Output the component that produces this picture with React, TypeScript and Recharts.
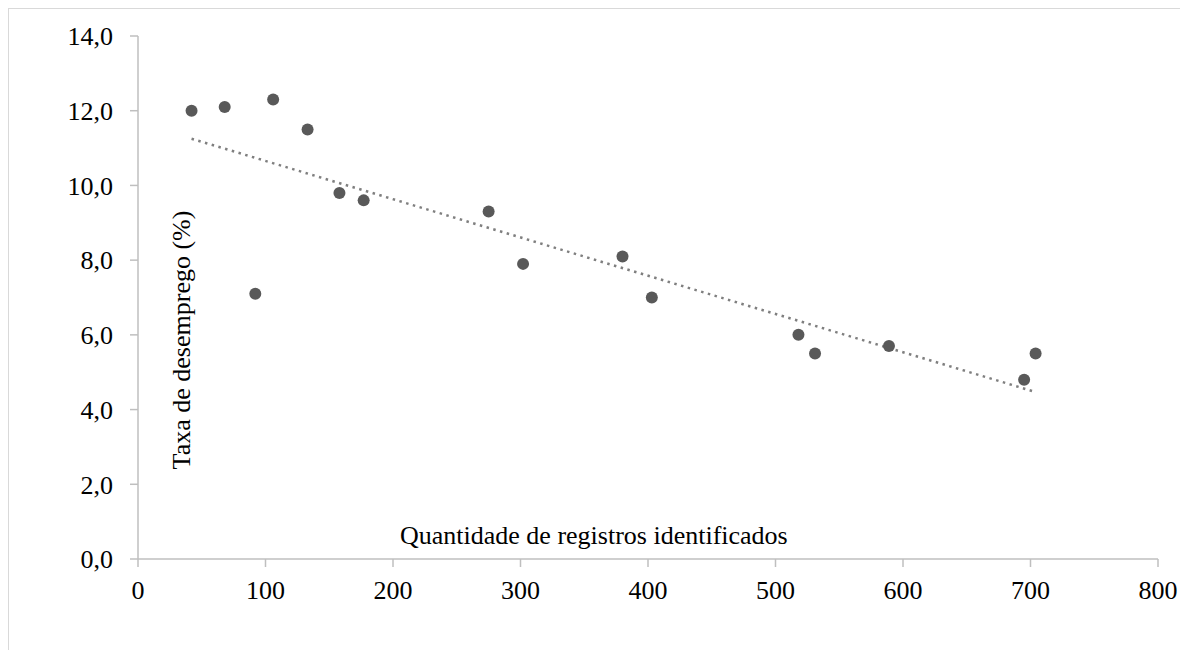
import React from 'react';
import {
  ScatterChart,
  Scatter,
  XAxis,
  YAxis,
  Label,
} from 'recharts';

// registros identificados (x) vs taxa de desemprego (y)
const registros = [42, 68, 92, 106, 133, 158, 177, 275, 302, 380, 403, 518, 531, 589, 695, 704];
const taxa = [12.0, 12.1, 7.1, 12.3, 11.5, 9.8, 9.6, 9.3, 7.9, 8.1, 7.0, 6.0, 5.5, 5.7, 4.8, 5.5];

// linear trend, start and end as seen in the figure
const trendX = [42, 704];
const trendY = [11.25, 4.47];

const xTicks = [0, 100, 200, 300, 400, 500, 600, 700, 800];
const yTicks = [0, 2, 4, 6, 8, 10, 12, 14];

const points = registros.map((x, i) => ({ x, y: taxa[i] }));
const trend = trendX.map((x, i) => ({ x, y: trendY[i] }));

const FONT = '"Liberation Serif", "Times New Roman", serif';
const axisColor = '#bfbfbf';

const fmtY = (v: number) => v.toFixed(1).replace('.', ',');

// custom ticks so the serif font actually sticks
const XTick = (p: any) => (
  <text
    x={p.x}
    y={p.y}
    dy="0.71em"
    textAnchor="middle"
    fontFamily={FONT}
    fontSize={26}
    fill="#000"
  >
    {p.payload.value}
  </text>
);

const YTick = (p: any) => (
  <text
    x={p.x}
    y={p.y}
    dy="0.355em"
    textAnchor="end"
    fontFamily={FONT}
    fontSize={26}
    fill="#000"
  >
    {fmtY(p.payload.value)}
  </text>
);

export default function App() {
  return (
    <div
      style={{
        width: 1180,
        height: 642,
        borderTop: '1px solid #d9d9d9',
        borderLeft: '1px solid #d9d9d9',
        background: '#fff',
        boxSizing: 'border-box',
      }}
    >
      <ScatterChart
        width={1179}
        height={641}
        margin={{ top: 27, right: 30, bottom: 51, left: 29 }}
      >
        <XAxis
          type="number"
          dataKey="x"
          domain={[0, 800]}
          ticks={xTicks}
          interval={0}
          tickSize={8}
          tickMargin={14}
          height={40}
          stroke={axisColor}
          strokeWidth={1.5}
          tick={XTick}
        >
          <Label
            content={({ viewBox }: any) => (
              <text
                x={viewBox.x + 262}
                y={viewBox.y - 15}
                fontFamily={FONT}
                fontSize={26}
                fill="#000"
              >
                Quantidade de registros identificados
              </text>
            )}
          />
        </XAxis>
        <YAxis
          type="number"
          dataKey="y"
          domain={[0, 14]}
          ticks={yTicks}
          interval={0}
          tickSize={8}
          tickMargin={17}
          width={100}
          stroke={axisColor}
          strokeWidth={1.5}
          tick={YTick}
        >
          <Label
            content={({ viewBox }: any) => (
              <text
                x={viewBox.x + viewBox.width + 43}
                y={viewBox.y + 304}
                transform={`rotate(-90 ${viewBox.x + viewBox.width + 43} ${viewBox.y + 304})`}
                textAnchor="middle"
                dominantBaseline="central"
                fontFamily={FONT}
                fontSize={26}
                fill="#000"
              >
                Taxa de desemprego (%)
              </text>
            )}
          />
        </YAxis>
        <Scatter
          data={trend}
          line={{ stroke: '#7f7f7f', strokeWidth: 2.5, strokeDasharray: '2.5 4.5' }}
          shape={() => <g />}
          isAnimationActive={false}
        />
        <Scatter
          data={points}
          fill="#595959"
          shape={(p: any) => <circle cx={p.cx} cy={p.cy} r={6} fill="#595959" />}
          isAnimationActive={false}
        />
      </ScatterChart>
    </div>
  );
}
